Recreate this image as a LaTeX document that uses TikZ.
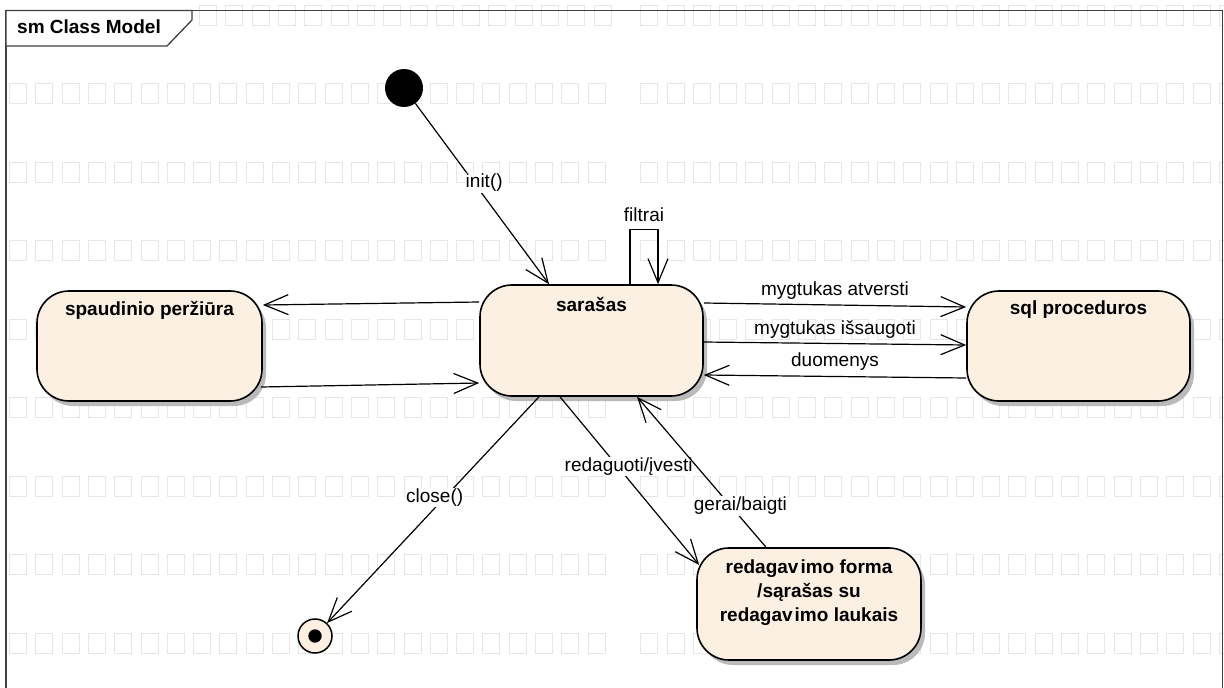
\documentclass[tikz,border=0pt]{standalone}
\usepackage{fontspec}
\setmainfont{Liberation Sans}
\usetikzlibrary{arrows.meta,calc,shadows}
\definecolor{statefill}{RGB}{251,240,225}
\definecolor{wmgray}{RGB}{230,230,230}
\definecolor{framegray}{RGB}{64,64,64}
\begin{document}
\begin{tikzpicture}[x=1pt,y=-1pt,
  every node/.style={font=\fontsize{19}{23}\selectfont},
  statebox/.style={rectangle, rounded corners=32pt, draw=black, line width=1.6pt, fill=statefill, inner sep=0pt,
    drop shadow={shadow xshift=4pt, shadow yshift=-5pt, fill=black!27, opacity=1}},
  trans/.style={line width=1.2pt, -{Straight Barb[length=24pt,width=20pt,line width=1.2pt]}},
  lbl/.style={fill=white, inner sep=1pt},
  wm/.style={draw=wmgray, line width=0.9pt}]
\useasboundingbox (0,0) rectangle (1224,688);
\fill[white] (0,0) rectangle (1224,688);
% faint background boxes
\foreach \j in {1,...,8}{
  \foreach \k in {0,...,22}{\draw[wm] ({9.5+26.3*\k},{5+78.5*\j}) rectangle ++(17,20);}
  \foreach \k in {24,...,46}{\draw[wm] ({9.5+26.3*\k},{5+78.5*\j}) rectangle ++(17,20);}
}
\foreach \k in {7,...,22}{\draw[wm] ({15.5+26.3*\k},5) rectangle ++(17,20);}
\foreach \k in {24,...,46}{\draw[wm] ({9.5+26.3*\k},5) rectangle ++(17,20);}
% frame
\draw[framegray, line width=1.3pt] (6,690) -- (6,10.5) -- (1222.5,10.5) -- (1222.5,690);
\draw[framegray, line width=1.3pt, fill=white] (6,10.5) -- (192,10.5) -- (192,20) -- (167,46) -- (6,46) -- cycle;
\node[font=\bfseries\fontsize{19}{23}\selectfont, anchor=west, inner sep=0pt] (title) at (17,27) {sm Class Model};
% states
\node[circle, fill=black, minimum size=38pt, inner sep=0pt] (init) at (404,88) {};
\node[circle, draw=black, line width=1.5pt, fill=statefill, minimum size=34pt, inner sep=0pt] (fin) at (315,636) {};
\fill[black] (fin.center) circle (6.7pt);
\node[statebox] (sar) at (591.5,340.5) {\parbox[c][111pt][t]{223pt}{\centering\bfseries\rule{0pt}{26pt}sarašas}};
\node[statebox] (spa) at (149.5,346) {\parbox[c][110pt][t]{225pt}{\centering\bfseries\rule{0pt}{24pt}spaudinio peržiūra}};
\node[statebox] (sql) at (1078.5,346) {\parbox[c][110pt][t]{223pt}{\centering\bfseries\rule{0pt}{23pt}sql proceduros}};
\node[statebox] (red) at (809,604) {\parbox[c][112pt][t]{224pt}{\centering\bfseries\fontsize{19}{24}\selectfont\rule{0pt}{25pt}redagav\kern2pt imo forma\\ /sąrašas su\\ redagav\kern2pt imo laukais}};
% transitions
\draw[trans] (init) -- ($(sar.north)+(-42.5,0)$) node[lbl, pos=0.44, xshift=10pt] {init()};
\draw[trans] ($(sar.north)+(38.5,0)$) -- ++(0,-55) -| node[pos=0.25, above=4pt] {filtrai} ($(sar.north)+(66.5,0)$);
\draw[trans] ($(sar.west)+(0,-38.5)$) -- ($(spa.east)+(0,-41)$);
\draw[trans] ($(spa.east)+(-2,41)$) -- ($(sar.west)+(0,42.5)$);
\draw[trans] ($(sar.east)+(0,-37.5)$) -- node[pos=0.5, yshift=14pt] {mygtukas atversti} ($(sql.west)+(0,-39)$);
\draw[trans] ($(sar.east)+(0,1.5)$) -- node[pos=0.5, yshift=14pt] {mygtukas išsaugoti} ($(sql.west)+(0,-1)$);
\draw[trans] ($(sql.west)+(0,32)$) -- node[pos=0.5, yshift=14.5pt] {duomenys} ($(sar.east)+(0,34.5)$);
\draw[trans] ($(sar.south)+(-52.5,0)$) -- node[lbl, pos=0.445, xshift=-10pt] {close()} (fin);
\draw[trans] ($(sar.south)+(-31.5,0)$) -- node[lbl, pos=0.414, xshift=11pt] {redaguoti/įvesti} ($(red.west)+(3,-39)$);
\draw[trans] ($(red.north)+(-43,0)$) -- node[lbl, pos=0.276, xshift=10pt] {gerai/baigti} ($(sar.south)+(45.5,0)$);
\end{tikzpicture}
\end{document}
